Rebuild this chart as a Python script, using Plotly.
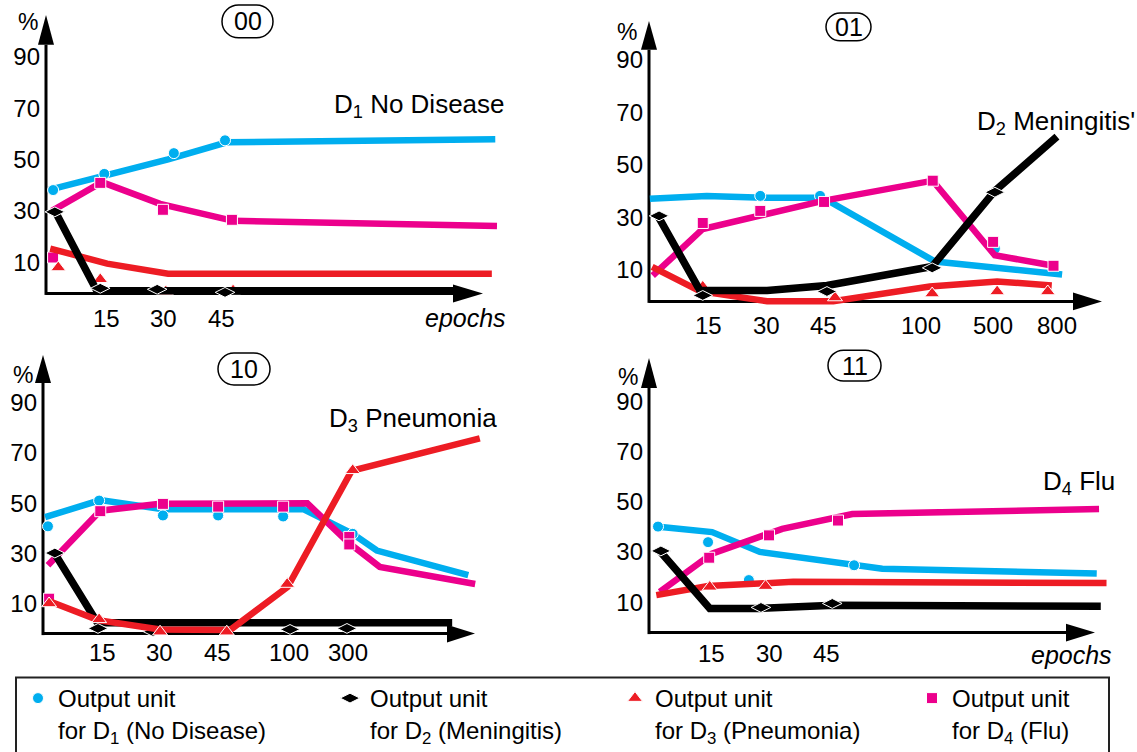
import plotly.graph_objects as go

W, H = 1137, 752
FONT = "Liberation Sans, Arial, Helvetica, sans-serif"
CYAN, MAGENTA, RED, BLACK = "#00AEEF", "#EC008C", "#ED1C24", "#000000"

Y_TICKS = [10, 30, 50, 70, 90]

# ---------------- panel 00 : trained towards D1 (No Disease) ----------------
p00_xticks = [1, 2, 3]
p00_xlabels = ["15", "30", "45"]
p00_d1_lx = [0.06, 1.0, 2.08, 3.1, 7.77]
p00_d1_ly = [38.5, 43.6, 50.1, 56.7, 57.9]
p00_d1_mx = [0.08, 0.97, 2.18, 3.07]
p00_d1_my = [38.1, 44.4, 52.5, 57.5]
p00_d4_lx = [0.06, 0.93, 1.94, 3.21, 7.8]
p00_d4_ly = [30.0, 41.2, 32.7, 26.1, 24.1]
p00_d4_mx = [0.08, 0.9, 1.99, 3.19]
p00_d4_my = [11.8, 40.9, 30.4, 26.5]
p00_d3_lx = [0.03, 1.02, 2.08, 7.71]
p00_d3_ly = [15.3, 9.4, 5.5, 5.5]
p00_d3_mx = [0.17, 0.9, 2.04, 3.21]
p00_d3_my = [7.9, 3.3, -1.5, -1.1]
p00_d2_lx = [0.11, 0.84, 7.07]
p00_d2_ly = [30.0, -1.2, -1.2]
p00_d2_mx = [0.11, 0.9, 1.89, 3.07]
p00_d2_my = [29.6, -0.2, -0.6, -1.8]

# ---------------- panel 01 : trained towards D2 (Meningitis) ----------------
p01_xticks = [1, 2, 3, 4.7, 5.95, 7.06]
p01_xlabels = ["15", "30", "45", "100", "500", "800"]
p01_d1_lx = [-0.02, 0.97, 2.02, 2.99, 4.94, 7.15]
p01_d1_ly = [37.1, 38.2, 37.5, 37.5, 13.2, 8.3]
p01_d1_mx = [1.9, 2.94, 5.98]
p01_d1_my = [38.2, 38.2, 18.1]
p01_d4_lx = [0.03, 0.9, 2.99, 4.9, 5.98, 7.0]
p01_d4_ly = [7.8, 25.6, 36.3, 44.0, 15.6, 11.6]
p01_d4_mx = [0.9, 1.9, 3.01, 4.9, 5.95, 7.0]
p01_d4_my = [27.9, 32.5, 35.9, 44.0, 20.7, 11.6]
p01_d3_lx = [0.02, 0.85, 2.02, 3.17, 4.85, 6.02, 6.97]
p01_d3_ly = [11.2, 1.9, -1.9, -1.9, 3.7, 5.6, 4.1]
p01_d3_mx = [0.9, 3.2, 4.89, 6.02, 6.9]
p01_d3_my = [3.6, -0.5, 1.0, 1.8, 1.8]
p01_d2_lx = [0.12, 0.85, 2.02, 3.06, 4.89, 5.98, 7.06]
p01_d2_ly = [30.6, 2.2, 2.2, 4.1, 11.3, 40.1, 60.8]
p01_d2_mx = [0.14, 0.9, 3.06, 4.89, 5.98]
p01_d2_my = [30.6, 0.3, 1.8, 10.8, 39.6]

# ---------------- panel 10 : trained towards D3 (Pneumonia) ----------------
p10_xticks = [1, 2, 3, 4.25, 5.28]
p10_xlabels = ["15", "30", "45", "100", "300"]
p10_d1_lx = [0.01, 0.97, 2.06, 4.5, 5.36, 5.78, 7.37]
p10_d1_ly = [44.4, 51.2, 47.6, 47.6, 37.8, 31.2, 21.4]
p10_d1_mx = [0.06, 0.95, 2.06, 3.02, 4.15, 5.36]
p10_d1_my = [40.8, 51.0, 45.1, 45.1, 44.7, 37.8]
p10_d4_lx = [0.06, 0.97, 2.01, 4.57, 5.28, 5.83, 7.49]
p10_d4_ly = [25.4, 47.0, 49.7, 49.9, 34.5, 24.7, 17.9]
p10_d4_mx = [0.08, 0.97, 2.06, 3.02, 4.15, 5.3, 5.3]
p10_d4_my = [12.1, 46.8, 49.7, 48.6, 48.6, 36.6, 33.6]
p10_d2_lx = [0.18, 0.92, 7.09]
p10_d2_ly = [29.9, 2.6, 2.6]
p10_d2_mx = [0.18, 0.93, 1.89, 4.27, 5.26]
p10_d2_my = [30.2, 0.3, -1.0, -0.1, 0.3]
p10_d3_lx = [0.04, 0.93, 2.01, 3.23, 4.23, 5.34, 7.57]
p10_d3_ly = [11.5, 3.6, -0.1, -0.3, 16.8, 62.8, 75.7]
p10_d3_mx = [0.08, 0.95, 2.01, 3.17, 4.22, 5.36]
p10_d3_my = [10.2, 3.9, -1.0, -1.0, 17.9, 63.0]

# ---------------- panel 11 : trained towards D4 (Flu) ----------------
p11_xticks = [1, 2, 3]
p11_xlabels = ["15", "30", "45"]
p11_d1_lx = [0.04, 1.01, 1.84, 3.52, 3.97, 7.7]
p11_d1_ly = [40.1, 37.9, 30.0, 24.7, 23.3, 21.4]
p11_d1_mx = [0.07, 0.94, 1.65, 3.48]
p11_d1_my = [40.1, 33.9, 18.8, 24.7]
p11_d4_lx = [0.1, 1.01, 2.23, 3.45, 7.74]
p11_d4_ly = [14.1, 29.3, 39.2, 45.1, 47.1]
p11_d4_mx = [0.96, 2.0, 3.2]
p11_d4_my = [27.7, 36.6, 42.5]
p11_d3_lx = [0.04, 0.94, 2.42, 7.87]
p11_d3_ly = [12.8, 16.4, 18.1, 17.6]
p11_d3_mx = [0.97, 1.94]
p11_d3_my = [16.1, 16.4]
p11_d2_lx = [0.1, 0.97, 1.84, 3.13, 7.77]
p11_d2_ly = [30.4, 7.5, 7.5, 8.8, 8.4]
p11_d2_mx = [0.12, 1.86, 3.1]
p11_d2_my = [30.4, 7.9, 9.5]

# ---------------- series styling ----------------
STYLE = {
    "d1": dict(color=CYAN, symbol="circle", size=11, lw=6.5, rank=1, lgw=267,
               name="Output unit<br>for D<sub>1</sub> (No Disease)"),
    "d2": dict(color=BLACK, symbol="diamond-wide", size=14, lw=7.5, rank=2, lgw=240,
               name="Output unit<br>for D<sub>2</sub> (Meningitis)"),
    "d3": dict(color=RED, symbol="triangle-up", size=13, lw=6.5, rank=3, lgw=252,
               name="Output unit<br>for D<sub>3</sub> (Pneumonia)"),
    "d4": dict(color=MAGENTA, symbol="square", size=11, lw=6.5, rank=4, lgw=150,
               name="Output unit<br>for D<sub>4</sub> (Flu)"),
}

# ---------------- panel geometry (pixels in the 1137x752 page) ----------------
PANELS = [
    dict(tag="00", title="D<sub>1</sub> No Disease", xticks=p00_xticks, xlabels=p00_xlabels,
         series={"d1": (p00_d1_lx, p00_d1_ly, p00_d1_mx, p00_d1_my),
                 "d4": (p00_d4_lx, p00_d4_ly, p00_d4_mx, p00_d4_my),
                 "d3": (p00_d3_lx, p00_d3_ly, p00_d3_mx, p00_d3_my),
                 "d2": (p00_d2_lx, p00_d2_ly, p00_d2_mx, p00_d2_my)},
         order=["d1", "d4", "d3", "d2"],
         ox=48.5, unit=57.5, zy=289.3, sy=2.578, dom_x=(46, 510), dom_y=(10, 300),
         yax_x=46, xax_y=295, yarrow=(15, 45), xarrow=(453, 483),
         pct=(28, 22), box=(222, 5, 273, 38), title_xy=(332, 106), tick_y=320,
         epochs=(465, 320)),
    dict(tag="01", title="D<sub>2</sub> Meningitis'", xticks=p01_xticks, xlabels=p01_xlabels,
         series={"d1": (p01_d1_lx, p01_d1_ly, p01_d1_mx, p01_d1_my),
                 "d4": (p01_d4_lx, p01_d4_ly, p01_d4_mx, p01_d4_my),
                 "d3": (p01_d3_lx, p01_d3_ly, p01_d3_mx, p01_d3_my),
                 "d2": (p01_d2_lx, p01_d2_ly, p01_d2_mx, p01_d2_my)},
         order=["d1", "d4", "d3", "d2"],
         ox=651, unit=57.5, zy=297.8, sy=2.64, dom_x=(649, 1115), dom_y=(12, 310),
         yax_x=649, xax_y=303, yarrow=(21, 50), xarrow=(1073, 1102),
         pct=(627, 32), box=(826, 13, 871, 41), title_xy=(975, 123), tick_y=327,
         epochs=None),
    dict(tag="10", title="D<sub>3</sub> Pneumonia", xticks=p10_xticks, xlabels=p10_xlabels,
         series={"d1": (p10_d1_lx, p10_d1_ly, p10_d1_mx, p10_d1_my),
                 "d4": (p10_d4_lx, p10_d4_ly, p10_d4_mx, p10_d4_my),
                 "d2": (p10_d2_lx, p10_d2_ly, p10_d2_mx, p10_d2_my),
                 "d3": (p10_d3_lx, p10_d3_ly, p10_d3_mx, p10_d3_my)},
         order=["d1", "d4", "d2", "d3"],
         ox=44.5, unit=57.5, zy=632.55, sy=2.535, dom_x=(43, 500), dom_y=(352, 645),
         yax_x=43, xax_y=637, yarrow=(357, 385), xarrow=(447, 475),
         pct=(23, 377), box=(218, 355, 270, 387), title_xy=(327, 422), tick_y=656,
         epochs=None),
    dict(tag="11", title="D<sub>4</sub> Flu", xticks=p11_xticks, xlabels=p11_xlabels,
         series={"d1": (p11_d1_lx, p11_d1_ly, p11_d1_mx, p11_d1_my),
                 "d4": (p11_d4_lx, p11_d4_ly, p11_d4_mx, p11_d4_my),
                 "d3": (p11_d3_lx, p11_d3_ly, p11_d3_mx, p11_d3_my),
                 "d2": (p11_d2_lx, p11_d2_ly, p11_d2_mx, p11_d2_my)},
         order=["d1", "d4", "d3", "d2"],
         ox=654, unit=57.5, zy=630.65, sy=2.525, dom_x=(649, 1125), dom_y=(355, 645),
         yax_x=649, xax_y=636, yarrow=(360, 390), xarrow=(1066, 1095),
         pct=(628, 379), box=(828, 352, 881, 383), title_xy=(1041, 485), tick_y=657,
         epochs=(1071, 659)),
]


def PX(x):
    return x / W


def PY(y):
    return 1 - y / H


def tri_path(pts):
    return "M " + " L ".join(f"{PX(x):.5f},{PY(y):.5f}" for x, y in pts) + " Z"


def stadium_path(x0, y0, x1, y1):
    r = (y1 - y0) / 2
    cy = (y0 + y1) / 2
    k = 0.5523 * r
    P = lambda x, y: f"{PX(x):.5f},{PY(y):.5f}"
    return (f"M {P(x0 + r, y0)} L {P(x1 - r, y0)} "
            f"C {P(x1 - r + k, y0)} {P(x1, cy - k)} {P(x1, cy)} "
            f"C {P(x1, cy + k)} {P(x1 - r + k, y1)} {P(x1 - r, y1)} "
            f"L {P(x0 + r, y1)} "
            f"C {P(x0 + r - k, y1)} {P(x0, cy + k)} {P(x0, cy)} "
            f"C {P(x0, cy - k)} {P(x0 + r - k, y0)} {P(x0 + r, y0)} Z")


fig = go.Figure()
shapes, annotations = [], []
layout_axes = {}

for i, p in enumerate(PANELS):
    k = "" if i == 0 else str(i + 1)
    xa, ya = "x" + k, "y" + k
    for key in p["order"]:
        lx, ly, mx, my = p["series"][key]
        st = STYLE[key]
        fig.add_trace(go.Scatter(
            x=lx, y=ly, mode="lines", xaxis=xa, yaxis=ya, showlegend=False,
            line=dict(color=st["color"], width=st["lw"]), hoverinfo="skip"))
        fig.add_trace(go.Scatter(
            x=mx, y=my, mode="markers", xaxis=xa, yaxis=ya, name=st["name"],
            showlegend=(i == 0), legendrank=st["rank"], legendwidth=st["lgw"],
            cliponaxis=False,
            marker=dict(symbol=st["symbol"], size=st["size"], color=st["color"],
                        line=dict(color="white", width=1))))

    x0, x1 = p["dom_x"]
    yt, yb = p["dom_y"]
    layout_axes["xaxis" + k] = dict(
        domain=[PX(x0), PX(x1)], anchor=ya,
        range=[(x0 - p["ox"]) / p["unit"], (x1 - p["ox"]) / p["unit"]],
        showgrid=False, zeroline=False, showline=False, showticklabels=False, ticks="")
    layout_axes["yaxis" + k] = dict(
        domain=[PY(yb), PY(yt)], anchor=xa,
        range=[(p["zy"] - yb) / p["sy"], (p["zy"] - yt) / p["sy"]],
        showgrid=False, zeroline=False, showline=False, ticks="",
        tickvals=Y_TICKS, ticklabelstandoff=5,
        tickfont=dict(family=FONT, size=24, color="black"))

    # axes with arrowheads
    ax_x, ax_y = p["yax_x"], p["xax_y"]
    ytip, ybase = p["yarrow"]
    xbase, xtip = p["xarrow"]
    line_style = dict(color="black", width=3)
    shapes.append(dict(type="line", xref="paper", yref="paper", layer="below",
                       x0=PX(ax_x), y0=PY(ax_y + 1.5), x1=PX(ax_x), y1=PY(ybase),
                       line=line_style))
    shapes.append(dict(type="line", xref="paper", yref="paper", layer="below",
                       x0=PX(ax_x), y0=PY(ax_y), x1=PX(xbase), y1=PY(ax_y),
                       line=line_style))
    shapes.append(dict(type="path", xref="paper", yref="paper", layer="below",
                       path=tri_path([(ax_x - 8, ybase), (ax_x, ytip), (ax_x + 8, ybase)]),
                       fillcolor="black", line=dict(width=0)))
    shapes.append(dict(type="path", xref="paper", yref="paper", layer="below",
                       path=tri_path([(xbase, ax_y - 9), (xtip, ax_y), (xbase, ax_y + 9)]),
                       fillcolor="black", line=dict(width=0)))

    # rounded panel tag
    bx0, by0, bx1, by1 = p["box"]
    shapes.append(dict(type="path", xref="paper", yref="paper",
                       path=stadium_path(bx0, by0, bx1, by1),
                       line=dict(color="black", width=1.5)))
    annotations.append(dict(text=p["tag"], x=PX((bx0 + bx1) / 2), y=PY((by0 + by1) / 2),
                            xref="paper", yref="paper", showarrow=False,
                            xanchor="center", yanchor="middle",
                            font=dict(family=FONT, size=25, color="black")))

    # "%" on the value axis
    annotations.append(dict(text="%", x=PX(p["pct"][0]), y=PY(p["pct"][1]),
                            xref="paper", yref="paper", showarrow=False,
                            xanchor="center", yanchor="middle",
                            font=dict(family=FONT, size=23, color="black")))

    # disease title
    annotations.append(dict(text=p["title"], x=PX(p["title_xy"][0]), y=PY(p["title_xy"][1]),
                            xref="paper", yref="paper", showarrow=False,
                            xanchor="left", yanchor="middle",
                            font=dict(family=FONT, size=26, color="black")))

    # epoch tick labels
    for tv, tt in zip(p["xticks"], p["xlabels"]):
        annotations.append(dict(text=tt, x=tv, xref=xa, y=PY(p["tick_y"]), yref="paper",
                                showarrow=False, xanchor="center", yanchor="middle",
                                font=dict(family=FONT, size=24, color="black")))

    if p["epochs"]:
        annotations.append(dict(text="<i>epochs</i>", x=PX(p["epochs"][0]), y=PY(p["epochs"][1]),
                                xref="paper", yref="paper", showarrow=False,
                                xanchor="center", yanchor="middle",
                                font=dict(family=FONT, size=25, color="black")))

# legend frame
shapes.append(dict(type="rect", xref="paper", yref="paper",
                   x0=PX(16), y0=PY(681), x1=PX(1109), y1=PY(770),
                   line=dict(color="#222222", width=2), layer="below"))

fig.update_layout(
    width=W, height=H, autosize=False,
    margin=dict(l=0, r=0, t=0, b=0, pad=0),
    paper_bgcolor="white", plot_bgcolor="rgba(0,0,0,0)",
    font=dict(family=FONT, color="black"),
    shapes=shapes, annotations=annotations,
    showlegend=True,
    legend=dict(orientation="h", x=PX(18), y=PY(680), xanchor="left", yanchor="top",
                font=dict(family=FONT, size=24, color="black"),
                valign="top", bgcolor="rgba(0,0,0,0)", borderwidth=0,
                itemsizing="trace", tracegroupgap=0),
    **layout_axes,
)

fig.write_html("out.html")
